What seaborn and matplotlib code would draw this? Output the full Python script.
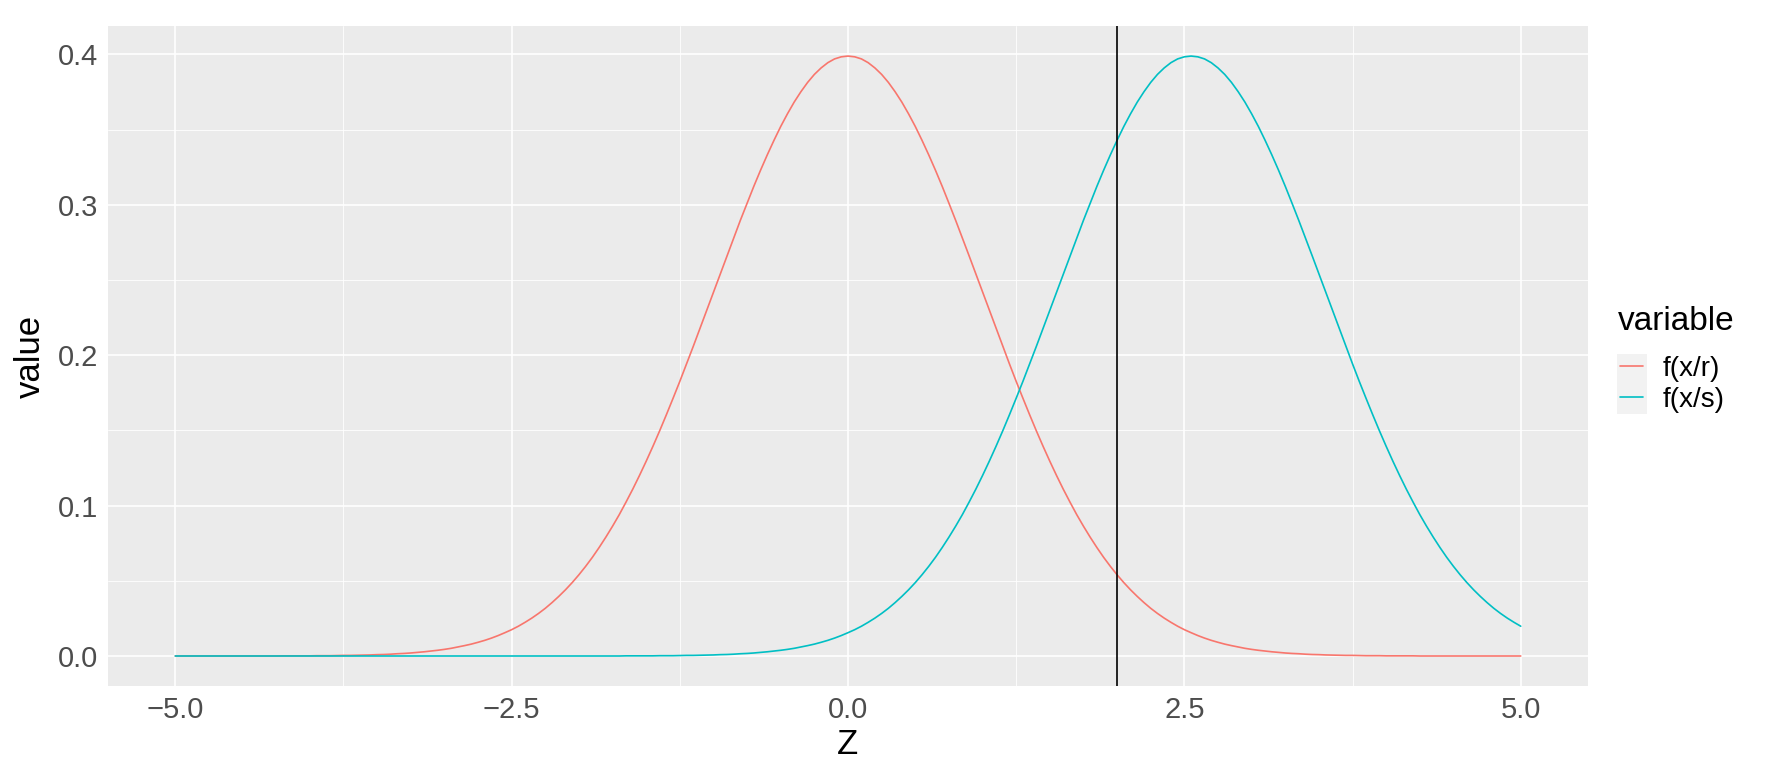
import numpy as np
import pandas as pd
import seaborn as sns
import matplotlib
matplotlib.use("Agg")
import matplotlib.pyplot as plt
from matplotlib.patches import Rectangle
from matplotlib.lines import Line2D

# ======================
# DATOS (paso 0.05 en Z)
# ======================
z_grid = np.round(np.linspace(-5, 5, 201), 2)

f_r = [
    0.0000, 0.0000, 0.0000, 0.0000, 0.0000, 0.0000, 0.0000, 0.0000, 0.0000, 0.0000,
    0.0000, 0.0000, 0.0000, 0.0000, 0.0000, 0.0000, 0.0001, 0.0001, 0.0001, 0.0001,
    0.0001, 0.0002, 0.0002, 0.0002, 0.0003, 0.0004, 0.0004, 0.0005, 0.0006, 0.0007,
    0.0009, 0.0010, 0.0012, 0.0015, 0.0017, 0.0020, 0.0024, 0.0028, 0.0033, 0.0038,
    0.0044, 0.0051, 0.0060, 0.0069, 0.0079, 0.0091, 0.0104, 0.0119, 0.0136, 0.0155,
    0.0175, 0.0198, 0.0224, 0.0252, 0.0283, 0.0317, 0.0355, 0.0396, 0.0440, 0.0488,
    0.0540, 0.0596, 0.0656, 0.0721, 0.0790, 0.0863, 0.0940, 0.1023, 0.1109, 0.1200,
    0.1295, 0.1394, 0.1497, 0.1604, 0.1714, 0.1826, 0.1942, 0.2059, 0.2179, 0.2299,
    0.2420, 0.2541, 0.2661, 0.2780, 0.2897, 0.3011, 0.3123, 0.3230, 0.3332, 0.3429,
    0.3521, 0.3605, 0.3683, 0.3752, 0.3814, 0.3867, 0.3910, 0.3945, 0.3970, 0.3984,
    0.3989,
    0.3984, 0.3970, 0.3945, 0.3910, 0.3867, 0.3814, 0.3752, 0.3683, 0.3605, 0.3521,
    0.3429, 0.3332, 0.3230, 0.3123, 0.3011, 0.2897, 0.2780, 0.2661, 0.2541, 0.2420,
    0.2299, 0.2179, 0.2059, 0.1942, 0.1826, 0.1714, 0.1604, 0.1497, 0.1394, 0.1295,
    0.1200, 0.1109, 0.1023, 0.0940, 0.0863, 0.0790, 0.0721, 0.0656, 0.0596, 0.0540,
    0.0488, 0.0440, 0.0396, 0.0355, 0.0317, 0.0283, 0.0252, 0.0224, 0.0198, 0.0175,
    0.0155, 0.0136, 0.0119, 0.0104, 0.0091, 0.0079, 0.0069, 0.0060, 0.0051, 0.0044,
    0.0038, 0.0033, 0.0028, 0.0024, 0.0020, 0.0017, 0.0015, 0.0012, 0.0010, 0.0009,
    0.0007, 0.0006, 0.0005, 0.0004, 0.0004, 0.0003, 0.0002, 0.0002, 0.0002, 0.0001,
    0.0001, 0.0001, 0.0001, 0.0001, 0.0000, 0.0000, 0.0000, 0.0000, 0.0000, 0.0000,
    0.0000, 0.0000, 0.0000, 0.0000, 0.0000, 0.0000, 0.0000, 0.0000, 0.0000, 0.0000,
]

f_s = [0.0000] * 67 + [
                                                            0.0001, 0.0001, 0.0001,
    0.0001, 0.0001, 0.0002, 0.0002, 0.0002, 0.0003, 0.0004, 0.0004, 0.0005, 0.0006,
    0.0007, 0.0009, 0.0010, 0.0012, 0.0015, 0.0017, 0.0020, 0.0024, 0.0028, 0.0033,
    0.0038, 0.0044, 0.0051, 0.0060, 0.0069, 0.0079, 0.0091, 0.0104, 0.0119, 0.0136,
    0.0155, 0.0175, 0.0198, 0.0224, 0.0252, 0.0283, 0.0317, 0.0355, 0.0396, 0.0440,
    0.0488, 0.0540, 0.0596, 0.0656, 0.0721, 0.0790, 0.0863, 0.0940, 0.1023, 0.1109,
    0.1200, 0.1295, 0.1394, 0.1497, 0.1604, 0.1714, 0.1826, 0.1942, 0.2059, 0.2179,
    0.2299, 0.2420, 0.2541, 0.2661, 0.2780, 0.2897, 0.3011, 0.3123, 0.3230, 0.3332,
    0.3429, 0.3521, 0.3605, 0.3683, 0.3752, 0.3814, 0.3867, 0.3910, 0.3945, 0.3970,
    0.3984, 0.3989, 0.3984, 0.3970, 0.3945, 0.3910, 0.3867, 0.3814, 0.3752, 0.3683,
    0.3605, 0.3521, 0.3429, 0.3332, 0.3230, 0.3123, 0.3011, 0.2897, 0.2780, 0.2661,
    0.2541, 0.2420, 0.2299, 0.2179, 0.2059, 0.1942, 0.1826, 0.1714, 0.1604, 0.1497,
    0.1394, 0.1295, 0.1200, 0.1109, 0.1023, 0.0940, 0.0863, 0.0790, 0.0721, 0.0656,
    0.0596, 0.0540, 0.0488, 0.0440, 0.0396, 0.0355, 0.0317, 0.0283, 0.0252, 0.0224,
    0.0198,
]

series_names = ["f(x/r)", "f(x/s)"]
series_colors = ["#F8766D", "#00BFC4"]
z_cut = 2.0

x_ticks = [-5.0, -2.5, 0.0, 2.5, 5.0]
x_ticklabels = ["\u22125.0", "\u22122.5", "0.0", "2.5", "5.0"]
y_ticks = [0.0, 0.1, 0.2, 0.3, 0.4]
y_ticklabels = ["0.0", "0.1", "0.2", "0.3", "0.4"]

assert len(f_r) == len(z_grid) and len(f_s) == len(z_grid)

df = pd.DataFrame({
    "Z": np.concatenate([z_grid, z_grid]),
    "value": np.concatenate([f_r, f_s]),
    "variable": [series_names[0]] * len(z_grid) + [series_names[1]] * len(z_grid),
})

# ======================
# ESTILO
# ======================
sns.set_style("darkgrid", {"axes.facecolor": "#EBEBEB", "grid.color": "white",
                           "text.color": "black", "axes.labelcolor": "black"})
plt.rcParams["font.family"] = ["Liberation Sans", "DejaVu Sans"]

W, H = 1766, 764
fig = plt.figure(figsize=(W / 100, H / 100), dpi=100)
ax = fig.add_axes([108 / W, 1 - 686 / H, (1588 - 108) / W, (686 - 26) / H])

palette = dict(zip(series_names, series_colors))
sns.lineplot(data=df, x="Z", y="value", hue="variable", palette=palette,
             linewidth=1.2, ax=ax, legend=False, sort=False)
ax.axvline(z_cut, color="black", linewidth=1.2)

ax.set_xlim(-5.5, 5.5)
ax.set_ylim(-0.01995, 0.41889)
ax.set_xticks(x_ticks)
ax.set_xticklabels(x_ticklabels)
ax.set_yticks(y_ticks)
ax.set_yticklabels(y_ticklabels)
ax.set_xticks([-3.75, -1.25, 1.25, 3.75], minor=True)
ax.set_yticks([0.05, 0.15, 0.25, 0.35], minor=True)
ax.grid(which="major", color="white", linewidth=1.2)
ax.grid(which="minor", color="white", linewidth=0.6)
for sp in ax.spines.values():
    sp.set_visible(False)
ax.tick_params(which="major", length=4, width=1, color="#333333",
               labelsize=21, labelcolor="#4D4D4D", pad=3)
ax.tick_params(which="minor", length=0)
ax.set_xlabel("Z", fontsize=25, labelpad=3, color="black")
ax.set_ylabel("value", fontsize=25, labelpad=8, color="black")

# Leyenda (título aparte para controlar la posición)
fig.text(1618 / W, 1 - 330 / H, "variable", fontsize=24, ha="left",
         va="baseline", color="black")
fig.patches.append(Rectangle((1617 / W, 1 - 414 / H), 30 / W, 60 / H,
                             transform=fig.transFigure, facecolor="#F2F2F2",
                             edgecolor="none", zorder=0))
handles = [Line2D([], [], color=c, linewidth=1.2) for c in series_colors]
leg = fig.legend(handles, series_names,
                 loc="upper left", bbox_to_anchor=(1620 / W, 1 - 356 / H),
                 frameon=False, fontsize=20, labelcolor="black",
                 handlelength=0.83, handletextpad=0.72, labelspacing=0.17,
                 borderpad=0, borderaxespad=0)

fig.savefig("out.png", dpi=100)
